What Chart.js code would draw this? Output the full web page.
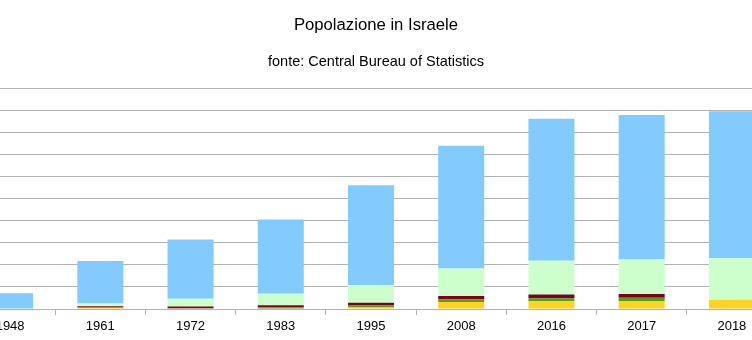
<!DOCTYPE html>
<html>
<head>
<meta charset="utf-8">
<script src="https://cdn.jsdelivr.net/npm/chart.js@4"></script>
<style>
  html, body { margin: 0; padding: 0; background: #fff; overflow: hidden; }
  #wrap { position: absolute; left: -35px; top: 0; }
</style>
</head>
<body>
<div id="wrap"><canvas id="bar-chart" width="822" height="340"></canvas></div>
<script>
var canvasElement = document.getElementById("bar-chart");

// popolazione in migliaia
var anni = ["1948", "1961", "1972", "1983", "1995", "2008", "2016", "2017", "2018"];
var ebrei = [716.7, 1932.4, 2686.7, 3360.0, 4522.3, 5569.2, 6446.1, 6554.5, 6668.0];
var arabiTotale = [null, null, null, null, null, null, null, null, 1878.0]; // solo totale per il 2018
var musulmani = [null, 120.0, 352.0, 526.6, 811.2, 1240.3, 1524.0, 1561.0, null];
var cristiani = [null, 50.5, 72.1, 94.2, 120.3, 151.7, 171.0, 172.0, null];
var drusi = [null, 26.3, 37.3, 72.3, 92.5, 122.7, 141.0, 143.0, null];
var altri = [null, 50.0, null, null, 66.0, 318.0, 346.0, 367.0, 421.0];

var font = "'Liberation Sans', Arial, sans-serif";

function serie(label, data, color) {
    return {
        label: label,
        data: data,
        backgroundColor: color,
        borderWidth: 0,
        categoryPercentage: 1.0,
        barPercentage: 0.51
    };
}

var config = {
    type: "bar",
    data: {
        labels: anni,
        datasets: [              // dal basso verso l'alto
            serie("Altri", altri, "#FFD320"),
            serie("Drusi", drusi, "#579D1C"),
            serie("Cristiani", cristiani, "#7E0021"),
            serie("Musulmani", musulmani, "#CCFFCC"),
            serie("Arabi", arabiTotale, "#CCFFCC"),
            serie("Ebrei", ebrei, "#83CAFF")
        ]
    },
    options: {
        responsive: false,
        animation: false,
        layout: { padding: { left: 0, right: 0, top: 0, bottom: 1.4 } },
        plugins: {
            legend: { display: false },
            tooltip: { enabled: false },
            title: {
                display: true,
                text: "Popolazione in Israele",
                color: "#000",
                font: { family: font, size: 16.7, weight: "normal" },
                padding: { top: 15, bottom: 10 }
            },
            subtitle: {
                display: true,
                text: "fonte: Central Bureau of Statistics",
                color: "#000",
                font: { family: font, size: 14.5, weight: "normal" },
                padding: { top: 8, bottom: 18 }
            }
        },
        scales: {
            x: {
                stacked: true,
                grid: { offset: true, drawOnChartArea: false, drawTicks: true, tickLength: 6, color: "#b3b3b3" },
                border: { color: "#b3b3b3" },
                ticks: { color: "#000", font: { family: font, size: 13 }, padding: 4, maxRotation: 0 }
            },
            y: {
                stacked: true,
                position: "right",
                min: 0,
                max: 10000,
                ticks: { display: false, stepSize: 1000 },
                grid: { color: "#b3b3b3", drawTicks: false },
                border: { display: false },
                afterFit: function (scale) { scale.width = 10; }
            }
        }
    }
};

var barChart = new Chart(canvasElement, config);
</script>
</body>
</html>
